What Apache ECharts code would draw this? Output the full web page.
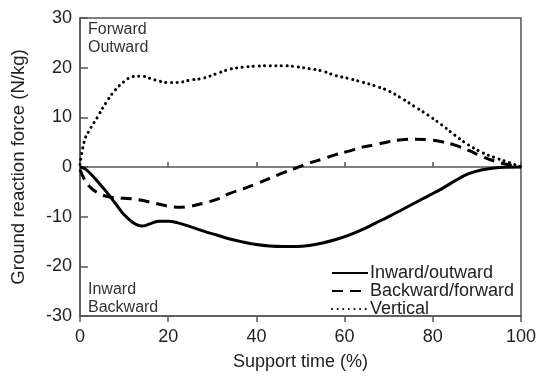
<!DOCTYPE html>
<html>
<head>
<meta charset="utf-8">
<script src="https://cdn.jsdelivr.net/npm/echarts@6/dist/echarts.min.js"></script>
<style>
html,body{margin:0;padding:0;background:#fff;}
#chart{width:539px;height:376px;}
</style>
</head>
<body>
<div id="chart"></div>
<script>
// Support time (%)
var supportTime = [0,1,2,4,6,8,10,12,14,16,18,20,22,25,28,31,34,37,40,43,46,49,52,55,58,61,64,67,70,73,76,79,82,85,88,91,94,97,100];
// Inward/outward (N/kg)
var inwardOutward = [0,-0.3,-1.0,-2.9,-5.0,-7.3,-9.6,-11.2,-11.9,-11.4,-10.9,-10.9,-11.2,-12.0,-12.9,-13.7,-14.5,-15.1,-15.6,-15.9,-16.0,-16.0,-15.8,-15.3,-14.6,-13.7,-12.6,-11.3,-10.0,-8.6,-7.2,-5.8,-4.4,-2.8,-1.4,-0.6,-0.2,-0.05,0];
// Backward/forward (N/kg)
var backwardForward = [-0.5,-2.5,-3.8,-5.2,-5.9,-6.2,-6.3,-6.4,-6.7,-7.1,-7.5,-7.9,-8.1,-7.9,-7.3,-6.5,-5.3,-4.4,-3.4,-2.3,-1.2,-0.2,0.8,1.6,2.5,3.2,4.0,4.5,5.1,5.5,5.6,5.5,5.1,4.4,3.4,2.2,1.2,0.5,0];
// Vertical (N/kg)
var vertical = [0.5,5.3,7.2,10.1,13.1,15.5,17.2,18.2,18.3,17.8,17.3,17.0,17.0,17.5,17.9,18.8,19.7,20.1,20.3,20.4,20.4,20.2,19.8,19.3,18.4,17.8,17.1,16.3,15.3,13.8,12.1,10.4,8.5,6.4,4.5,3.0,1.9,1.0,0];

var xTicks = [0,20,40,60,80,100];
var yTicks = [-30,-20,-10,0,10,20,30];

function pairs(xs, ys){ return xs.map(function(x,i){ return [x, ys[i]]; }); }

var FONT = 'Liberation Sans, Arial, sans-serif';
var AXIS_COLOR = '#555';

var chart = echarts.init(document.getElementById('chart'));
chart.setOption({
  animation: false,
  backgroundColor: '#fff',
  grid: { left: 80, right: 12, top: 18, bottom: 56, show: true, borderColor: AXIS_COLOR, borderWidth: 1.5, backgroundColor: 'transparent' },
  xAxis: [
    { type: 'value', position: 'bottom', min: xTicks[0], max: xTicks[xTicks.length-1], interval: 20,
      name: 'Support time (%)', nameLocation: 'middle', nameGap: 37,
      nameTextStyle: { fontFamily: FONT, fontSize: 18, color: '#222' },
      axisLine: { onZero: false, show: true, lineStyle: { color: AXIS_COLOR, width: 1.5 } },
      axisTick: { show: false },
      axisLabel: { fontFamily: FONT, fontSize: 18, color: '#222', margin: 12 },
      splitLine: { show: false } },
    { type: 'value', position: 'bottom', min: 0, max: 100, interval: 20,
      axisLine: { onZero: true, show: true, lineStyle: { color: AXIS_COLOR, width: 1.5 } },
      axisTick: { show: true, inside: true, length: 5, lineStyle: { color: AXIS_COLOR, width: 1.5 } },
      axisLabel: { show: false }, splitLine: { show: false } },
    { type: 'value', position: 'bottom', min: 0, max: 100, interval: 20,
      axisLine: { onZero: true, show: false },
      axisTick: { show: true, inside: false, length: 6, lineStyle: { color: AXIS_COLOR, width: 1.5 } },
      axisLabel: { show: false }, splitLine: { show: false } }
  ],
  yAxis: {
    type: 'value', min: yTicks[0], max: yTicks[yTicks.length-1], interval: 10,
    name: 'Ground reaction force (N/kg)', nameLocation: 'middle', nameGap: 52,
    nameTextStyle: { fontFamily: FONT, fontSize: 18.6, color: '#222' },
    axisLine: { show: true, lineStyle: { color: AXIS_COLOR, width: 1.5 } },
    axisTick: { show: true, inside: true, length: 8, lineStyle: { color: AXIS_COLOR, width: 1.5 } },
    axisLabel: { fontFamily: FONT, fontSize: 18, color: '#222', margin: 8 },
    splitLine: { show: false }
  },
  legend: {
    orient: 'vertical', left: 326, top: 259, itemWidth: 36, itemHeight: 14, itemGap: 0,
    itemStyle: { opacity: 0 },
    textStyle: { fontFamily: FONT, fontSize: 18, color: '#222', lineHeight: 17.5, padding: [0,0,0,-3] },
    data: ['Inward/outward', 'Backward/forward', 'Vertical']
  },
  graphic: [
    { type: 'text', left: 88, top: 21, style: { text: 'Forward\nOutward', fontFamily: FONT, fontSize: 16, lineHeight: 18, fill: '#333' } },
    { type: 'text', left: 88, top: 281, style: { text: 'Inward\nBackward', fontFamily: FONT, fontSize: 16, lineHeight: 18, fill: '#333' } }
  ],
  series: [
    { name: 'Inward/outward', type: 'line', xAxisIndex: 0, smooth: 0.4, symbol: 'none',
      data: pairs(supportTime, inwardOutward), color: '#000',
      lineStyle: { color: '#000', width: 3 } },
    { name: 'Backward/forward', type: 'line', xAxisIndex: 0, smooth: 0.4, symbol: 'none',
      data: pairs(supportTime, backwardForward), color: '#000',
      lineStyle: { color: '#000', width: 3, type: [11, 7] } },
    { name: 'Vertical', type: 'line', xAxisIndex: 0, smooth: 0.4, symbol: 'none',
      data: pairs(supportTime, vertical), color: '#000',
      lineStyle: { color: '#000', width: 3, type: [0.1, 5.5], cap: 'round' } }
  ]
});
</script>
</body>
</html>
